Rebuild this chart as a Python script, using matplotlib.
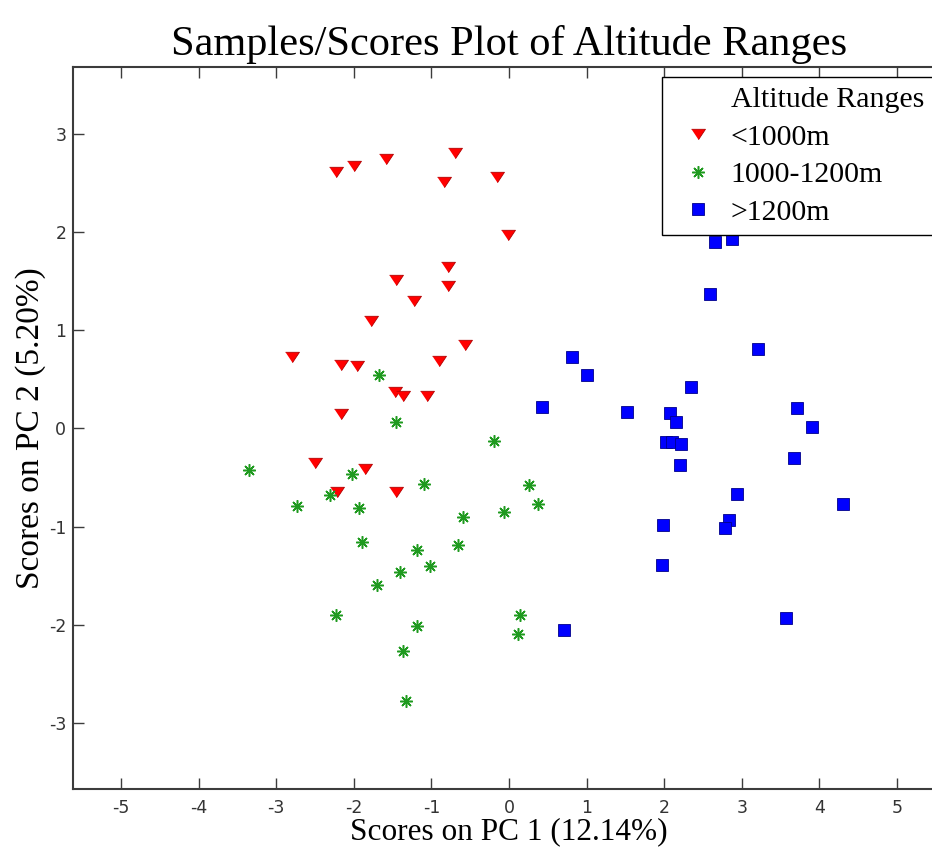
import numpy as np
import matplotlib
matplotlib.use('Agg')
import matplotlib.pyplot as plt
from matplotlib.lines import Line2D

# PCA scores
low_pc1 = [-2.23, -2.00, -1.58, -0.70, -0.84, -0.16, -0.01, -0.78, -0.78, -1.45,
           -1.23, -1.78, -0.57, -2.80, -2.16, -1.96, -0.90, -1.47, -1.36, -1.06,
           -2.16, -2.50, -1.85, -2.22, -1.45]
low_pc2 = [2.61, 2.67, 2.74, 2.80, 2.51, 2.56, 1.97, 1.64, 1.45, 1.51,
           1.30, 1.09, 0.85, 0.73, 0.64, 0.63, 0.69, 0.37, 0.33, 0.33,
           0.15, -0.35, -0.41, -0.65, -0.65]

mid_pc1 = [-1.67, -1.45, -0.19, -3.35, -2.02, -1.10, 0.26, -2.31, -2.73, -1.93,
           0.38, -0.59, -0.07, -1.89, -0.66, -1.18, -1.02, -1.40, -1.70, -2.23,
           0.14, -1.18, 0.11, -1.37, -1.33]
mid_pc2 = [0.54, 0.06, -0.13, -0.42, -0.46, -0.57, -0.58, -0.68, -0.79, -0.81,
           -0.77, -0.90, -0.85, -1.16, -1.19, -1.24, -1.40, -1.46, -1.59, -1.90,
           -1.90, -2.01, -2.09, -2.27, -2.78]

high_pc1 = [2.65, 2.88, 2.59, 3.21, 0.81, 1.01, 2.34, 0.42, 1.52, 2.08,
            2.15, 3.71, 3.91, 2.03, 2.10, 2.22, 2.20, 3.67, 2.94, 4.30,
            1.98, 2.84, 2.78, 1.97, 0.71, 3.57]
high_pc2 = [1.90, 1.93, 1.37, 0.81, 0.73, 0.54, 0.42, 0.22, 0.17, 0.16,
            0.06, 0.21, 0.01, -0.14, -0.14, -0.16, -0.37, -0.30, -0.67, -0.77,
            -0.98, -0.93, -1.01, -1.39, -2.05, -1.93]

legend_title = 'Altitude Ranges'
group_labels = ['<1000m', '1000-1200m', '>1200m']
x_ticks = [-5, -4, -3, -2, -1, 0, 1, 2, 3, 4, 5]
y_ticks = [-3, -2, -1, 0, 1, 2, 3]

serif = 'Liberation Serif'
spine_col = '#3c3c3c'
plt.rcParams['axes.unicode_minus'] = False

# flattened downward triangle, like the MATLAB marker
tri_down = [(-1, 0.75), (1, 0.75), (0, -0.75)]

fig = plt.figure(figsize=(9.32, 8.5), dpi=100)
# axes run past the right edge of the figure, as in the cropped original
ax = fig.add_axes([0.0786, 0.0714, 0.935, 0.8494])

ax.plot(low_pc1, low_pc2, linestyle='none', marker=tri_down, markersize=10,
        markerfacecolor='#ff0000', markeredgecolor='#b00000', markeredgewidth=0.6)
ax.plot(mid_pc1, mid_pc2, linestyle='none', marker=(8, 2, 0), markersize=9,
        markeredgewidth=1.1, color='#1f9a1f')
ax.plot(high_pc1, high_pc2, linestyle='none', marker='s', markersize=8,
        markerfacecolor='#0000ff', markeredgecolor='#00008b', markeredgewidth=0.6)

ax.set_xlim(-5.615, 5.615)
ax.set_ylim(-3.675, 3.675)
ax.set_xticks(x_ticks)
ax.set_yticks(y_ticks)
ax.tick_params(direction='in', top=True, right=True, length=8, width=1,
               color=spine_col, labelcolor='#333333', labelsize=12.5)
ax.tick_params(axis='x', pad=7)
ax.tick_params(axis='y', pad=5)
for s in ax.spines.values():
    s.set_color(spine_col)
    s.set_linewidth(1.5)

ax.set_title('Samples/Scores Plot of Altitude Ranges', fontfamily=serif,
             fontsize=30.5, pad=9)
ax.set_xlabel('Scores on PC 1 (12.14%)', fontfamily=serif, fontsize=22.5, labelpad=0)
ax.set_ylabel('Scores on PC 2 (5.20%)', fontfamily=serif, fontsize=24, labelpad=2)

# legend: first row is a blank entry acting as the title
handles = [
    Line2D([], [], linestyle='none', marker='none'),
    Line2D([], [], linestyle='none', marker=tri_down, markersize=10,
           markerfacecolor='#ff0000', markeredgecolor='#b00000', markeredgewidth=0.6),
    Line2D([], [], linestyle='none', marker=(8, 2, 0), markersize=9,
           markeredgewidth=1.1, color='#1f9a1f'),
    Line2D([], [], linestyle='none', marker='s', markersize=8,
           markerfacecolor='#0000ff', markeredgecolor='#00008b', markeredgewidth=0.6),
]
leg = ax.legend(handles, [legend_title] + group_labels, loc='upper left',
                bbox_to_anchor=(662 / 932, 1 - 77 / 850),
                bbox_transform=fig.transFigure, borderaxespad=0,
                prop={'family': serif, 'size': 21.5}, borderpad=0.3,
                handlelength=1.8, handletextpad=0.2, labelspacing=0.36,
                fancybox=False, framealpha=1, edgecolor='black')
leg.get_frame().set_linewidth(1.0)

fig.savefig('out.png', dpi=100)
